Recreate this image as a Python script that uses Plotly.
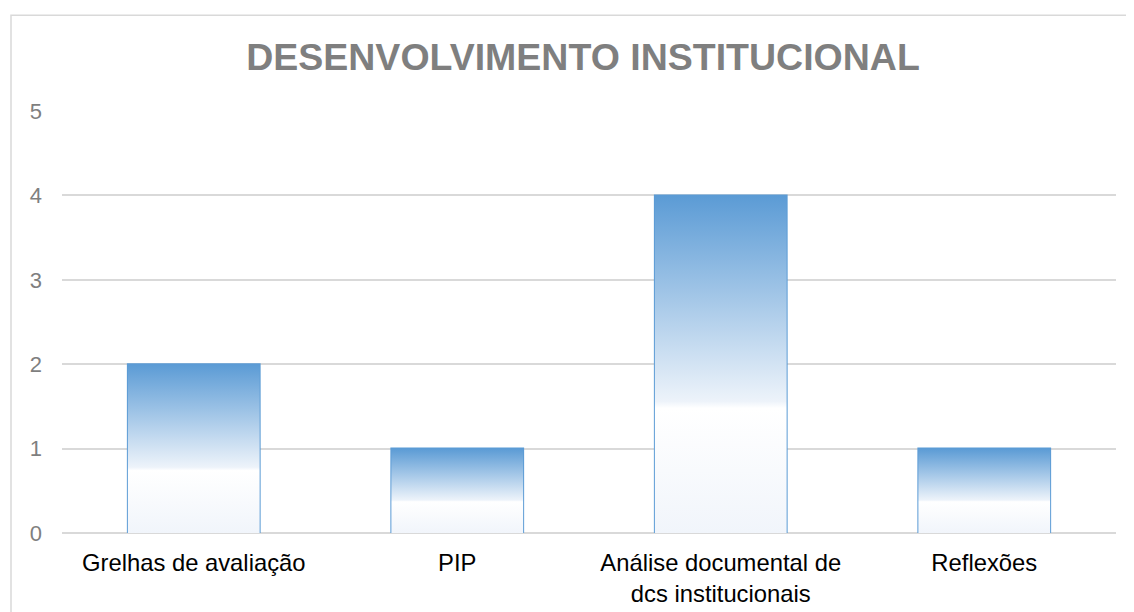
import plotly.graph_objects as go

categories = ["Grelhas de avaliação", "PIP", "Análise documental de<br>dcs institucionais", "Reflexões"]
values = [2, 1, 4, 1]
y_ticks = [0, 1, 2, 3, 4, 5]
title_text = "DESENVOLVIMENTO INSTITUCIONAL"

W, H = 1134, 612
OFF = 8  # page body margin
L, R, T, B = 62 - OFF, 1134 - (1116 - OFF), 110.7 - OFF, 612 - (532.7 - OFF)
bar_w = 0.5
blue = "#5B9BD5"
grad = [[0.0, "#F1F5FB"], [0.37, "#FFFFFF"], [0.39, "#EDF3FA"], [1.0, blue]]

fig = go.Figure()
xs = list(range(len(categories)))
for i, v in zip(xs, values):
    fig.add_trace(go.Scatter(
        x=[i - bar_w / 2, i + bar_w / 2, i + bar_w / 2, i - bar_w / 2, i - bar_w / 2],
        y=[0, 0, v, v, 0],
        mode="lines", line=dict(width=0), fill="toself",
        fillgradient=dict(type="vertical", colorscale=grad, start=0, stop=v),
        hoverinfo="skip", showlegend=False))

fig.add_trace(go.Bar(
    x=xs, y=values, width=bar_w,
    marker=dict(color="rgba(0,0,0,0)", line=dict(color=blue, width=2)),
    showlegend=False))

pw = W - L - R
ph = H - T - B
fig.add_shape(type="rect", xref="paper", yref="paper",
              x0=(11 - OFF - L) / pw, x1=(1150 - L) / pw,
              y0=-(640 - (H - B)) / ph, y1=1 + (T - (15 - OFF)) / ph,
              line=dict(color="#D9D9D9", width=1.5), layer="below")

fig.update_layout(
    width=W, height=H,
    margin=dict(l=L, r=R, t=T, b=B, autoexpand=False),
    paper_bgcolor="white", plot_bgcolor="white",
    title=dict(text=f"<b>{title_text}</b>", x=(583 - OFF) / W, xanchor="center",
               y=1 - (57 - OFF) / H, yanchor="middle", yref="container",
               font=dict(family="Liberation Sans, Arial", size=37.5, color="#7F7F7F")),
    font=dict(family="Liberation Sans, Arial"),
    bargap=0.5,
)
fig.update_xaxes(
    range=[-0.5, len(categories) - 0.5], tickvals=xs, ticktext=categories,
    showgrid=False, zeroline=False, showline=False, ticks="",
    tickfont=dict(size=23.8, color="#000000"), ticklabelstandoff=13,
)
fig.update_yaxes(
    range=[0, 5], tickvals=y_ticks, showgrid=True, gridcolor="#D9D9D9", gridwidth=1.5,
    zeroline=True, zerolinecolor="#D9D9D9", zerolinewidth=1.5,
    showline=False, ticks="", tickfont=dict(size=22, color="#7F7F7F"),
    ticklabelstandoff=19,
)
fig.write_html("out.html")
